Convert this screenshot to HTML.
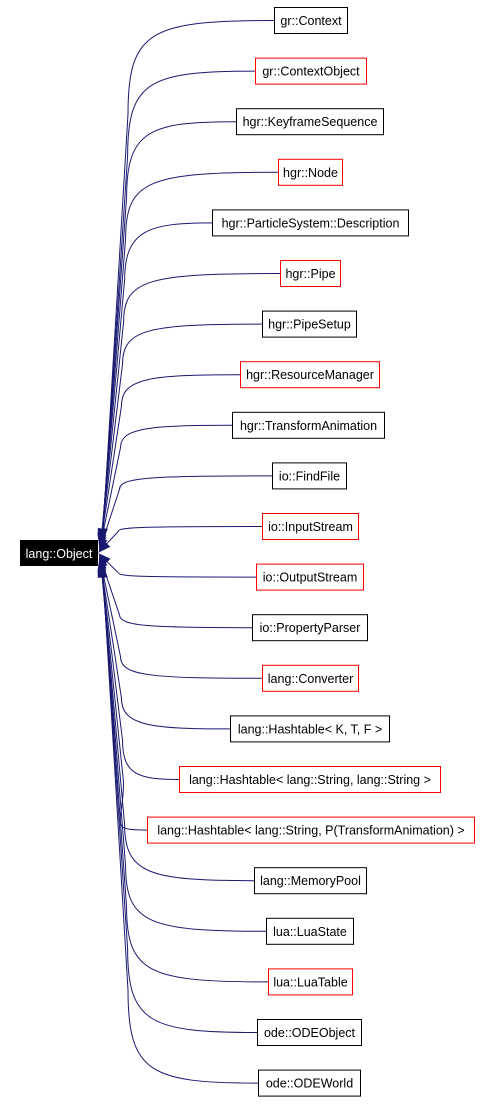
<!DOCTYPE html>
<html><head><meta charset="utf-8"><style>
html,body{margin:0;padding:0;background:#fff;width:491px;height:1105px;overflow:hidden}
svg{display:block}
text{font-family:"Liberation Sans",Arial,sans-serif;font-size:12.5px}
</style></head><body>
<svg id="g" width="491" height="1105" xmlns="http://www.w3.org/2000/svg">
<rect x="20" y="540" width="78" height="26" fill="#000"/>
<text x="59" y="558" fill="#fff" text-anchor="middle">lang::Object</text>
</svg>
<script>
var nodes=[
["gr::Context",274,347,0],["gr::ContextObject",255,366,1],["hgr::KeyframeSequence",236,383,0],
["hgr::Node",278,342,1],["hgr::ParticleSystem::Description",212,408,0],["hgr::Pipe",280,340,1],
["hgr::PipeSetup",262,356,0],["hgr::ResourceManager",240,379,1],["hgr::TransformAnimation",232,384,0],
["io::FindFile",272,346,0],["io::InputStream",262,358,1],["io::OutputStream",256,363,1],
["io::PropertyParser",252,367,0],["lang::Converter",262,358,1],["lang::Hashtable< K, T, F >",230,389,0],
["lang::Hashtable< lang::String, lang::String >",179,440,1],
["lang::Hashtable< lang::String, P(TransformAnimation) >",147,474,1],
["lang::MemoryPool",254,366,0],["lua::LuaState",266,353,0],["lua::LuaTable",268,352,1],
["ode::ODEObject",257,361,0],["ode::ODEWorld",258,360,0]];
var s=document.getElementById('g'),h="";
nodes.forEach(function(n,i){
 var cy=20.5+i*50.6,x1=n[1],x2=n[2];
 var d=cy-553, sg=d>0?1:-1;
 var tx=99+Math.min(4,Math.abs(d)/150), ty=553+Math.max(-13,Math.min(13,d*0.04));
 var p1x=Math.min(150,x1-40), p2x=118+Math.min(10,Math.abs(d)*0.02), p2y=cy+(ty-cy)*0.18;
 var dx=p2x-tx, dy=p2y-ty, l=Math.sqrt(dx*dx+dy*dy), L=11, W=4;
 var ux=dx/l, uy=dy/l, bx=tx+L*ux, by=ty+L*uy;
 h+='<path d="M'+x1+','+cy+' C'+p1x+','+cy+' '+p2x+','+(cy+(ty-cy)*0.02)+' '+p2x+','+p2y+' L'+bx+','+by+'" fill="none" stroke="#191970" stroke-width="1"/>';
 var px=-uy*W, py=ux*W;
 h+='<polygon points="'+tx+','+ty+' '+(bx+px)+','+(by+py)+' '+(bx-px)+','+(by-py)+'" fill="#191970" stroke="#191970" stroke-width="0.8"/>';
 h+='<rect x="'+(x1+0.5)+'" y="'+(cy-13)+'" width="'+(x2-x1)+'" height="26" fill="#fff" stroke="'+(n[3]?'#f00':'#000')+'"/>';
 var t=n[0].replace(/&/g,'&amp;').replace(/</g,'&lt;').replace(/>/g,'&gt;');
 h+='<text x="'+((x1+x2)/2+0.5)+'" y="'+(cy+4.5)+'" text-anchor="middle">'+t+'</text>';
});
s.insertAdjacentHTML('beforeend',h);
</script>
</body></html>
